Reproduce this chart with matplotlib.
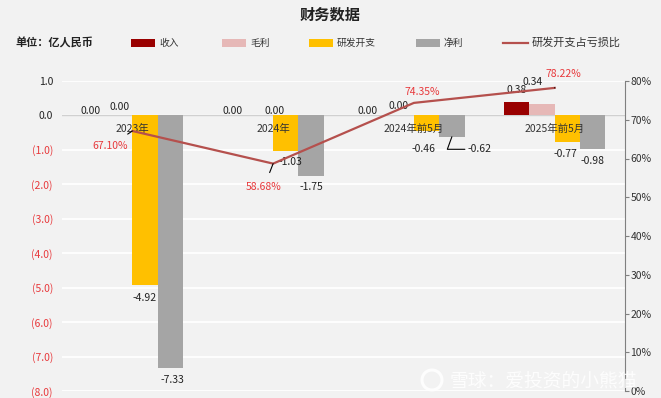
import matplotlib
matplotlib.use("Agg")
import matplotlib.pyplot as plt
from matplotlib.patches import Rectangle, Circle
from matplotlib.lines import Line2D
import numpy as np

plt.rcParams['font.family'] = ['Noto Sans CJK SC', 'DejaVu Sans']

categories = ["2023年", "2024年", "2024年前5月", "2025年前5月"]
revenue = [0.00, 0.00, 0.00, 0.38]
gross = [0.00, 0.00, 0.00, 0.34]
rnd = [-4.92, -1.03, -0.46, -0.77]
net = [-7.33, -1.75, -0.62, -0.98]
ratio = [67.10, 58.68, 74.35, 78.22]
series_names = ["收入", "毛利", "研发开支", "净利"]
line_name = "研发开支占亏损比"
left_ticks = [1, 0, -1, -2, -3, -4, -5, -6, -7, -8]
right_ticks = [0, 10, 20, 30, 40, 50, 60, 70, 80]

colors = ["#990000", "#e6b8b7", "#ffc000", "#a5a5a5"]
line_color = "#b5504d"
red_txt = "#e8393c"
bg = "#f2f2f2"

fig = plt.figure(figsize=(6.61, 3.98), dpi=100, facecolor=bg)
ax = fig.add_axes([62/661, 1-391/398, (625-62)/661, (391-81)/398])
ax.set_facecolor(bg)
ax.set_xlim(-0.5, 3.5)
ax.set_ylim(-8, 1)
for s in ax.spines.values():
    s.set_visible(False)
ax.set_yticks(left_ticks)
ax.set_yticklabels([f"{v:.1f}" if v >= 0 else f"({abs(v):.1f})" for v in left_ticks], fontsize=7.5)
for lbl, v in zip(ax.get_yticklabels(), left_ticks):
    lbl.set_color("#222222" if v >= 0 else red_txt)
ax.tick_params(axis='y', length=0, pad=6.5)
ax.set_xticks([])
ax.grid(axis='y', color='white', linewidth=1.3)
ax.set_axisbelow(True)
ax.axhline(0, color='#d0d0d0', linewidth=1.0, zorder=1)

x = np.arange(len(categories))
w = 0.18
all_series = [revenue, gross, rnd, net]
for k, (vals, c) in enumerate(zip(all_series, colors)):
    ax.bar(x + (k - 1.5) * w, vals, width=w, color=c, align='center', zorder=2)

# category labels just under the zero line
for i, cat in enumerate(categories):
    ax.annotate(cat, xy=(x[i], 0), xytext=(0, -9.5), textcoords='offset points',
                ha='center', va='center', fontsize=7.5, color='#333333', zorder=5)

def lab(xv, yv, txt, dx, dy, color='#222222'):
    ax.annotate(txt, xy=(xv, yv), xytext=(dx, dy), textcoords='offset points',
                ha='center', va='center', fontsize=7.5, color=color, zorder=6)

fmt = lambda v: f"{v:.2f}"
rev_off = [(-3, 3), (-1.5, 3), (-6, 3.5), (0, 8.6)]
gro_off = [(0, 6), (10, 3), (-2, 7), (-6.5, 16)]
for i in range(4):
    lab(x[i] - 1.5 * w, revenue[i], fmt(revenue[i]), *rev_off[i])
    lab(x[i] - 0.5 * w, gross[i], fmt(gross[i]), *gro_off[i])
rnd_off = [(0, -9.7), (3, -8), (-2, -13), (-1.5, -9)]
net_off = [(1.5, -9), (0, -8.4), (0, 0), (0, -8.7)]
for i in range(4):
    lab(x[i] + 0.5 * w, rnd[i], fmt(rnd[i]), *rnd_off[i])
for i in [0, 1, 3]:
    lab(x[i] + 1.5 * w, net[i], fmt(net[i]), *net_off[i])
# -0.62 with elbow leader
ax.annotate(fmt(net[2]), xy=(x[2] + 1.5 * w, net[2]), xytext=(20, -9), textcoords='offset points',
            ha='center', va='center', fontsize=7.5, color='#222222', zorder=6,
            arrowprops=dict(arrowstyle='-', color='black', lw=0.8,
                            connectionstyle='angle,angleA=0,angleB=70,rad=0', shrinkA=13, shrinkB=0))

# right axis with line
ax2 = ax.twinx()
ax2.set_ylim(0, 80)
for s in ["top", "left", "bottom"]:
    ax2.spines[s].set_visible(False)
ax2.spines["right"].set_color("#808080")
ax2.set_yticks(right_ticks)
ax2.set_yticklabels([f"{v}%" for v in right_ticks], fontsize=7.5, color='#333333')
ax2.tick_params(axis='y', length=3, color='#808080', direction='out', pad=1)
ax2.plot(x, ratio, color=line_color, linewidth=1.6, zorder=4)

pct_off = [(-16, -10.6), (-6.5, -16.7), (6, 8), (6.5, 10)]
leaders = [True, True, False, True]
for i in range(4):
    kw = {}
    if leaders[i]:
        kw = dict(arrowprops=dict(arrowstyle='-', color='black', lw=0.8, shrinkA=5, shrinkB=0))
    ax2.annotate(f"{ratio[i]:.2f}%", xy=(x[i], ratio[i]), xytext=pct_off[i], textcoords='offset points',
                 ha='center', va='center', fontsize=7.5, color=red_txt, zorder=6, **kw)

# title
fig.text(0.5, 1 - 15/398, "财务数据", ha='center', va='center', fontsize=11, fontweight='bold', color='#222222')
# unit label and legend
ly = 1 - 43/398
fig.text(15/661, ly, "单位：亿人民币", ha='left', va='center', fontsize=8, fontweight='bold', color='#222222')
leg_x = [131, 222, 309, 416]
for px, name, c in zip(leg_x, series_names, colors):
    fig.patches.append(Rectangle((px/661, ly - 4/398), 24/661, 8/398, transform=fig.transFigure,
                                 facecolor=c, edgecolor='none'))
    fig.text((px + 28)/661, ly, name, ha='left', va='center', fontsize=7, color='#333333')
fig.lines.append(Line2D([503/661, 528/661], [ly, ly], transform=fig.transFigure, color=line_color, lw=1.6))
fig.text(532/661, ly, line_name, ha='left', va='center', fontsize=8, color='#333333')

# watermark
fig.patches.append(Circle((4.32, (398 - 380) / 100), 0.10, transform=fig.dpi_scale_trans,
                          facecolor='none', edgecolor='white', lw=2.2, alpha=0.85))
fig.text(450/661, 1 - 381/398, "雪球：爱投资的小熊猫", ha='left', va='center', fontsize=13.5,
         color='white', alpha=0.85)

fig.savefig("out.png", dpi=100, facecolor=bg)
